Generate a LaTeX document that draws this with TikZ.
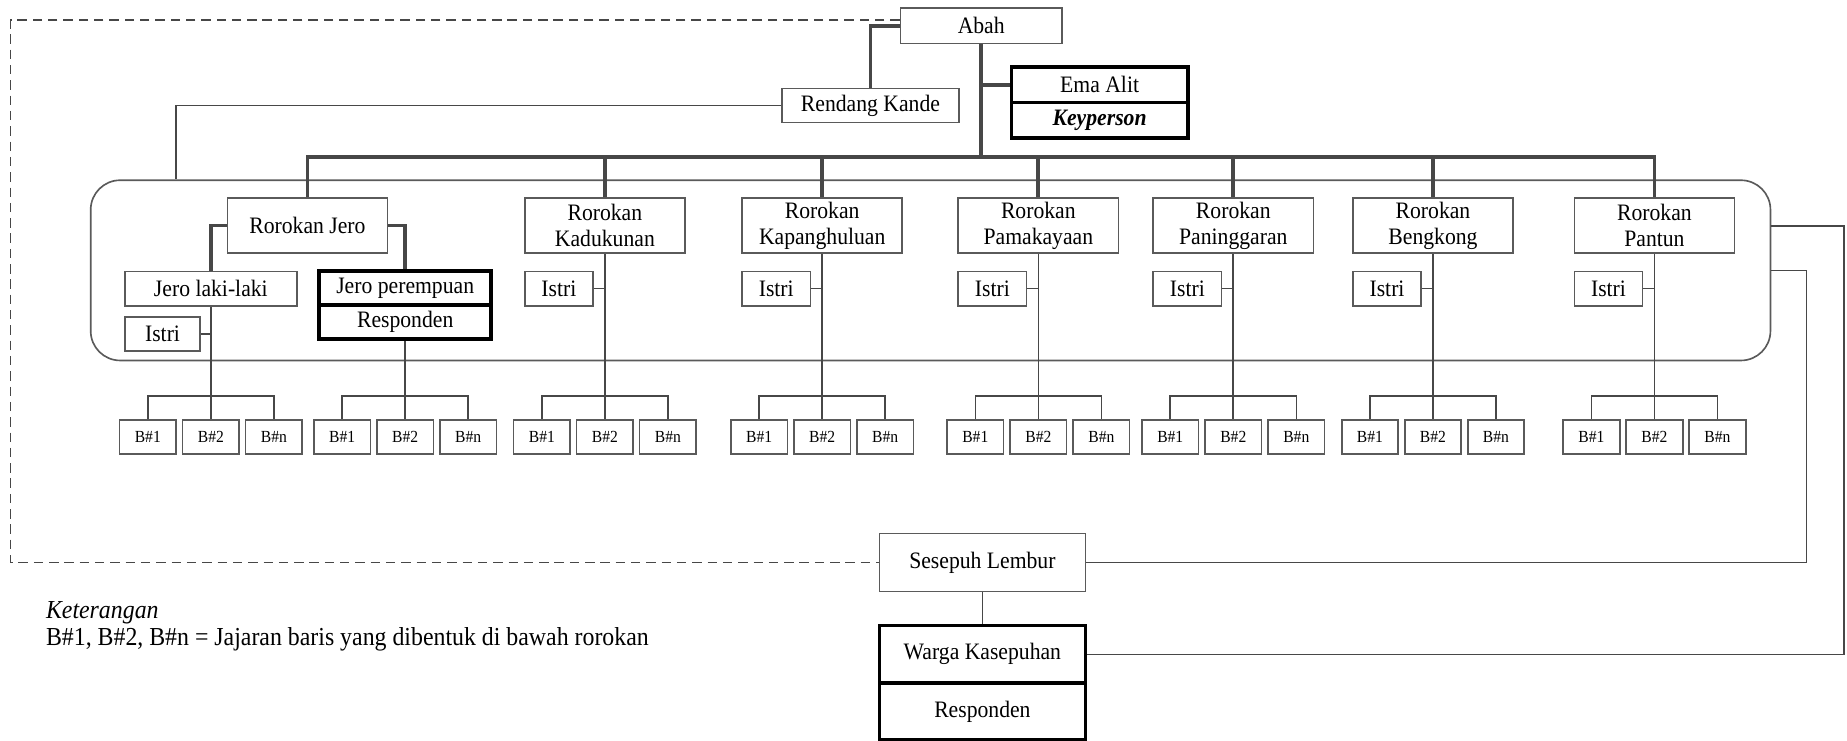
\documentclass[tikz,border=0pt]{standalone}
\usepackage{fontspec}
\setmainfont{Liberation Serif}[FakeStretch=0.92]
\usepackage{tikz}
\usepackage{xcolor}

\definecolor{framegray}{HTML}{5A5A5A}
\definecolor{linegray}{HTML}{474747}

\tikzset{
    rbox/.style = {draw=framegray, line width=0.7pt, fill=white, inner sep=0pt, align=center, font=\fontsize{10}{11}\selectfont},
    kbox/.style = {rbox, draw=black, line width=1.5pt},
    rk/.style = {rbox, minimum width=68pt, minimum height=23.5pt},
    istri/.style = {rbox, minimum width=29pt, minimum height=14.5pt},
    bsm/.style = {rbox, minimum width=24pt, minimum height=14.5pt, font=\fontsize{7.2}{9}\selectfont},
    thickln/.style = {line width=1.6pt, color=linegray},
    thinln/.style = {line width=0.7pt, color=linegray},
    dashln/.style = {line width=0.7pt, color=linegray, dash pattern=on 4pt off 2.5pt}
}

\begin{document}
\begin{tikzpicture}[x=0.5pt, y=-0.5pt]
    \useasboundingbox (0,0) rectangle (1568,629);

    \node[draw=framegray, line width=0.7pt, rounded corners=12.5pt, minimum width=713pt, minimum height=76.5pt, inner sep=0pt] (grp) at (790,229.5) {};

    \node[rbox, minimum width=68.5pt, minimum height=15pt] (abah) at (833,22) {Abah};
    \node[rbox, minimum width=75pt, minimum height=14.5pt] (rendang) at (739,89.5) {Rendang Kande};
    \node[kbox, minimum width=75pt, minimum height=15pt] (ema) at (933.5,72) {Ema Alit};
    \node[kbox, minimum width=75pt, minimum height=15pt] (key) at (933.5,102) {\textbf{\textit{Keyperson}}};

    \node[rk] (jero) at (261,191.5) {Rorokan Jero};
    \node[rk] (kad) at (513.5,191.5) {Rorokan\\Kadukunan};
    \node[rk] (kap) at (698,191.5) {Rorokan\\Kapanghuluan};
    \node[rk] (pam) at (881.5,191.5) {Rorokan\\Pamakayaan};
    \node[rk] (pan) at (1047,191.5) {Rorokan\\Paninggaran};
    \node[rk] (beng) at (1216.5,191.5) {Rorokan\\Bengkong};
    \node[rk] (pant) at (1404.5,191.5) {Rorokan\\Pantun};

    \node[rbox, minimum width=73pt, minimum height=14.5pt] (jlaki) at (179,245) {Jero laki-laki};
    \node[kbox, minimum width=73pt, minimum height=14.5pt] (jper) at (344,244.5) {Jero perempuan};
    \node[kbox, minimum width=73pt, minimum height=14.5pt] (resp) at (344,273.5) {Responden};

    \node[istri, minimum width=32pt] (istria) at (138,283.5) {Istri};
    \node[istri] (istrib) at (474.5,245) {Istri};
    \node[istri] (istric) at (659,245) {Istri};
    \node[istri] (istrid) at (842.5,245) {Istri};
    \node[istri] (istrie) at (1008,245) {Istri};
    \node[istri] (istrif) at (1177.5,245) {Istri};
    \node[istri] (istrig) at (1365.5,245) {Istri};

    \node[rbox, minimum width=87.5pt, minimum height=24.5pt] (sesepuh) at (834,477.5) {Sesepuh Lembur};
    \node[kbox, minimum width=87.5pt, minimum height=24.5pt] (warga) at (834,555.5) {Warga Kasepuhan};
    \node[kbox, minimum width=87.5pt, minimum height=24pt] (resp2) at (834,604) {Responden};

    % garis tebal
    \coordinate (bus) at (833,133);
    \draw[thickln] (abah.west) -| (rendang.north);
    \draw[thickln] (abah.south) -- (bus);
    \draw[thickln] (abah.south |- ema.west) -- (ema.west);
    \draw[thickln] (jero.north) |- (bus) -| (pant.north);
    \draw[thickln] (kad.north) -- (kad.north |- bus);
    \draw[thickln] (kap.north) -- (kap.north |- bus);
    \draw[thickln] (pam.north) -- (pam.north |- bus);
    \draw[thickln] (pan.north) -- (pan.north |- bus);
    \draw[thickln] (beng.north) -- (beng.north |- bus);
    \draw[thickln] (jero.west) -| (jlaki.north);
    \draw[thickln] (jero.east) -| (jper.north);

    % garis tipis
    \draw[thinln] (rendang.west) -| ([xshift=36.5pt]grp.north west);
    \draw[thinln] (istria.east) -- (istria.east -| jlaki.south);
    \draw[thinln] (istrib.east) -- (istrib.east -| kad.south);
    \draw[thinln] (istric.east) -- (istric.east -| kap.south);
    \draw[thinln] (istrid.east) -- (istrid.east -| pam.south);
    \draw[thinln] (istrie.east) -- (istrie.east -| pan.south);
    \draw[thinln] (istrif.east) -- (istrif.east -| beng.south);
    \draw[thinln] (istrig.east) -- (istrig.east -| pant.south);

    \foreach \c/\n/\p in {179/a/jlaki, 344/b/resp, 513.5/c/kad, 698/d/kap, 881.5/e/pam, 1047/f/pan, 1216.5/g/beng, 1404.5/h/pant} {
        \node[bsm] (\n1) at (\c-53.5,371) {B\#1};
        \node[bsm] (\n2) at (\c,371) {B\#2};
        \node[bsm] (\n3) at (\c+53.5,371) {B\#n};
        \draw[thinln] (\n1.north) -- ++(0,-19.5) -| (\n3.north);
        \draw[thinln] (\p.south) -- (\n2.north);
    }

    \draw[thinln] ([yshift=18.75pt]grp.east) -- ++(62,0) |- (warga.east);
    \draw[thinln] (grp.east) -- ++(30,0) |- (sesepuh.east);
    \draw[thinln] (sesepuh.south) -- (warga.north);

    \coordinate (dl) at (9,477.5);
    \draw[dashln] ([yshift=2.5pt]abah.west) -| (dl) -- (sesepuh.west);

    \node[anchor=base west, font=\fontsize{11}{12}\selectfont\itshape] (ket) at (32,525) {Keterangan};
    \node[anchor=base west, font=\fontsize{11}{12}\selectfont] (ketb) at (32,548) {B\#1, B\#2, B\#n = Jajaran baris yang dibentuk di bawah rorokan};
\end{tikzpicture}
\end{document}
